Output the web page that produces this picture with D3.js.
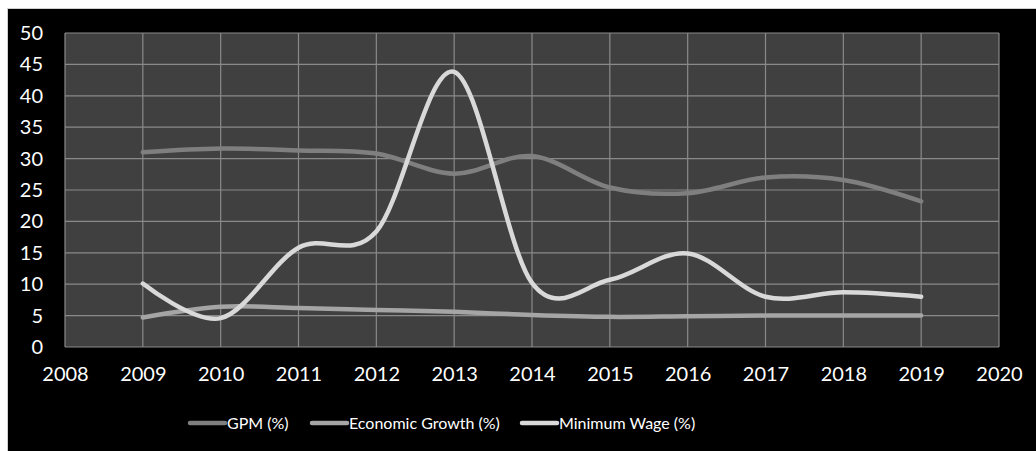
<!DOCTYPE html>
<html>
<head>
<meta charset="utf-8">
<script src="https://cdn.jsdelivr.net/npm/d3@7"></script>
<style>
  body { margin: 0; background: #ffffff; }
  svg { display: block; }
</style>
</head>
<body>
<div id="chart"></div>
<script>
const years = [2009, 2010, 2011, 2012, 2013, 2014, 2015, 2016, 2017, 2018, 2019];
const gpm = [31.0, 31.6, 31.3, 30.8, 27.6, 30.4, 25.4, 24.5, 27.0, 26.6, 23.2];
const economicGrowth = [4.7, 6.4, 6.2, 5.9, 5.6, 5.1, 4.8, 4.9, 5.0, 5.0, 5.0];
const minimumWage = [10.1, 4.6, 15.8, 18.4, 43.8, 10.2, 10.7, 14.9, 8.0, 8.7, 8.0];
const seriesNames = ["GPM (%)", "Economic Growth (%)", "Minimum Wage (%)"];
const yTicks = [0, 5, 10, 15, 20, 25, 30, 35, 40, 45, 50];
const xTicks = [2008, 2009, 2010, 2011, 2012, 2013, 2014, 2015, 2016, 2017, 2018, 2019, 2020];

const width = 1036;
const height = 451;
const plot = { left: 65, top: 33, right: 999, bottom: 347 };
const colors = ["#7f7f7f", "#a5a5a5", "#d9d9d9"];
const font = "Lato, 'Open Sans', sans-serif";

const svg = d3.select("#chart")
    .append("svg")
    .attr("width", width)
    .attr("height", height);

// black chart area
svg.append("rect")
    .attr("x", 7.5)
    .attr("y", 8.5)
    .attr("width", width)
    .attr("height", height)
    .attr("fill", "#000")
    .attr("stroke", "#d0d0d0")
    .attr("stroke-width", 1);

const x = d3.scaleLinear()
    .domain([2008, 2020])
    .range([plot.left, plot.right]);

const y = d3.scaleLinear()
    .domain([0, 50])
    .range([plot.bottom, plot.top]);

// plot background
svg.append("rect")
    .attr("x", plot.left)
    .attr("y", plot.top)
    .attr("width", plot.right - plot.left)
    .attr("height", plot.bottom - plot.top)
    .attr("fill", "#404040");

// gridlines
const grid = svg.append("g")
    .attr("stroke", "#8a8a8a")
    .attr("stroke-width", 1.2);

grid.selectAll(".hgrid")
    .data(yTicks)
    .enter()
    .append("line")
    .attr("x1", plot.left)
    .attr("x2", plot.right)
    .attr("y1", d => y(d))
    .attr("y2", d => y(d));

grid.selectAll(".vgrid")
    .data(xTicks)
    .enter()
    .append("line")
    .attr("x1", d => x(d))
    .attr("x2", d => x(d))
    .attr("y1", plot.top)
    .attr("y2", plot.bottom);

// axis labels
const yAxis = d3.axisLeft(y).tickValues(yTicks).tickSize(0).tickPadding(22);
const yg = svg.append("g")
    .attr("transform", `translate(${plot.left},0)`)
    .call(yAxis);

const xAxis = d3.axisBottom(x).tickValues(xTicks).tickSize(0).tickPadding(20).tickFormat(d3.format("d"));
const xg = svg.append("g")
    .attr("transform", `translate(0,${plot.bottom})`)
    .call(xAxis);

[yg, xg].forEach(g => {
    g.select(".domain").remove();
    g.selectAll("text")
        .attr("fill", "#ffffff")
        .attr("font-family", font)
        .attr("font-size", 20);
});

// lines
const allSeries = [gpm, economicGrowth, minimumWage];
const line = d3.line()
    .x((d, i) => x(years[i]))
    .y(d => y(d))
    .curve(d3.curveCatmullRom.alpha(0));

allSeries.forEach((values, i) => {
    svg.append("path")
        .datum(values)
        .attr("d", line)
        .attr("fill", "none")
        .attr("stroke", colors[i])
        .attr("stroke-width", 4.5)
        .attr("stroke-linecap", "round");
});

// legend
const legendY = 423;
const legendX = [190, 312, 522];
seriesNames.forEach((name, i) => {
    svg.append("line")
        .attr("x1", legendX[i])
        .attr("x2", legendX[i] + 35)
        .attr("y1", legendY)
        .attr("y2", legendY)
        .attr("stroke", colors[i])
        .attr("stroke-width", 4.5)
        .attr("stroke-linecap", "round");
    svg.append("text")
        .attr("x", legendX[i] + 37)
        .attr("y", legendY)
        .attr("dy", "0.35em")
        .attr("fill", "#ffffff")
        .attr("font-family", font)
        .attr("font-size", 16)
        .text(name);
});
</script>
</body>
</html>
